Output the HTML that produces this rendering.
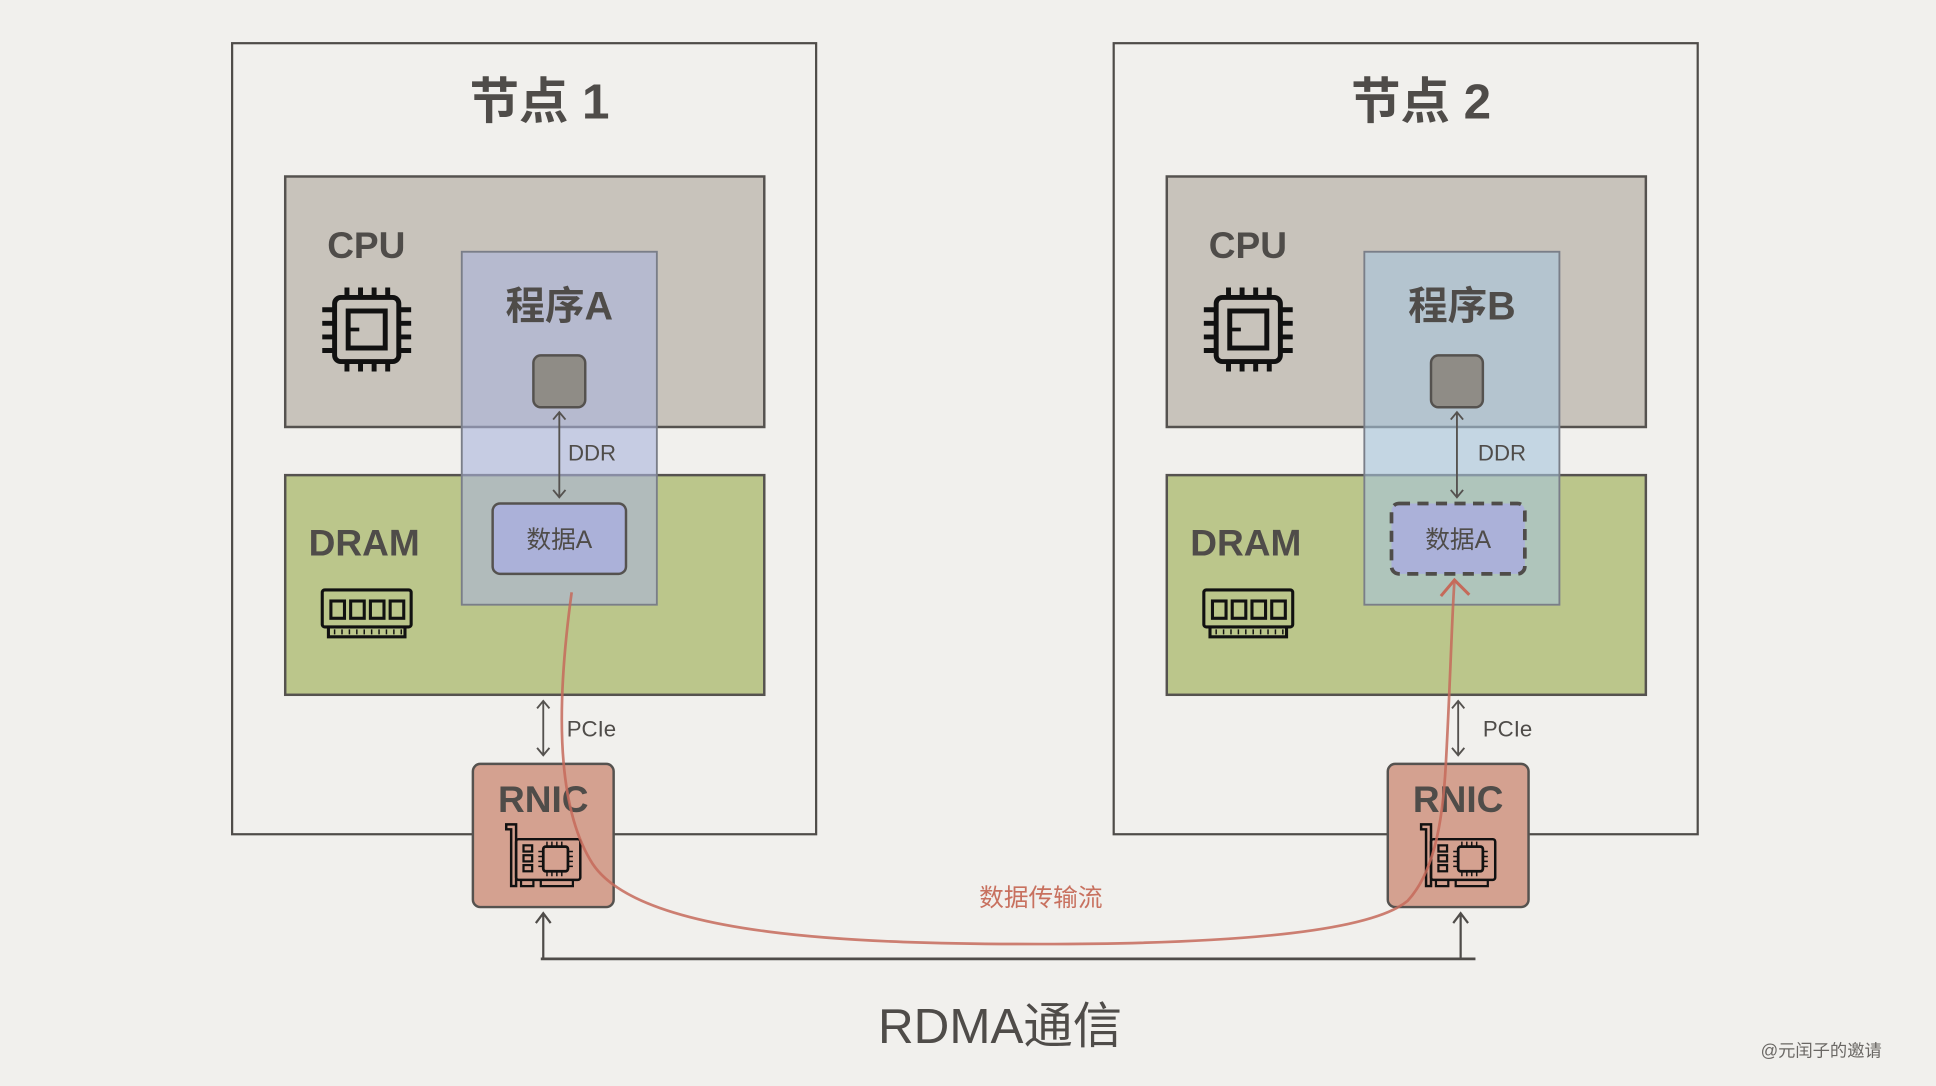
<!DOCTYPE html>
<html><head><meta charset="utf-8"><style>
html,body{margin:0;padding:0;background:#f1f0ed}
svg{display:block}
text{font-family:"Liberation Sans","Noto Sans CJK SC",sans-serif;fill:#4f4c49}
</style></head><body>
<svg width="1936" height="1086" viewBox="0 0 1568 880" preserveAspectRatio="none" xmlns="http://www.w3.org/2000/svg">
<defs>
<g id="chip">
  <rect x="-26" y="-26" width="52" height="52" rx="5" fill="none" stroke="#111" stroke-width="4"/>
  <rect x="-15" y="-15" width="30" height="30" fill="none" stroke="#111" stroke-width="4"/>
  <path d="M-15 0 H-6" stroke="#111" stroke-width="3"/>
  <g stroke="#111" stroke-width="4">
    <path d="M-16 -34 V-26 M-5 -34 V-26 M6 -34 V-26 M17 -34 V-26"/>
    <path d="M-16 26 V34 M-5 26 V34 M6 26 V34 M17 26 V34"/>
    <path d="M-36 -16 H-26 M-36 -5 H-26 M-36 6 H-26 M-36 17 H-26"/>
    <path d="M26 -16 H36 M26 -5 H36 M26 6 H36 M26 17 H36"/>
  </g>
</g>
<g id="ram">
  <rect x="0" y="0" width="72" height="30" rx="2" fill="none" stroke="#111" stroke-width="2.5"/>
  <rect x="7" y="9" width="11" height="14" fill="none" stroke="#111" stroke-width="2.5"/>
  <rect x="23" y="9" width="11" height="14" fill="none" stroke="#111" stroke-width="2.5"/>
  <rect x="39" y="9" width="11" height="14" fill="none" stroke="#111" stroke-width="2.5"/>
  <rect x="55" y="9" width="11" height="14" fill="none" stroke="#111" stroke-width="2.5"/>
  <path d="M5 30 V38 H67 V30" fill="none" stroke="#111" stroke-width="2.5"/>
  <path d="M10 32 V36 M16 32 V36 M22 32 V36 M28 32 V36 M34 32 V36 M40 32 V36 M46 32 V36 M52 32 V36 M58 32 V36 M64 32 V36" stroke="#111" stroke-width="1.2"/>
</g>
<g id="nic">
  <path d="M0 0 H8 V50 H4 V4 H0 Z" fill="none" stroke="#111" stroke-width="2"/>
  <rect x="8" y="12" width="52" height="33" rx="2" fill="none" stroke="#111" stroke-width="2"/>
  <rect x="14" y="17" width="7" height="5" fill="none" stroke="#111" stroke-width="1.8"/>
  <rect x="14" y="25" width="7" height="5" fill="none" stroke="#111" stroke-width="1.8"/>
  <rect x="14" y="33" width="7" height="5" fill="none" stroke="#111" stroke-width="1.8"/>
  <rect x="30" y="18" width="20" height="20" rx="2" fill="none" stroke="#111" stroke-width="2.2"/>
  <path d="M33 14 V18 M37 14 V18 M41 14 V18 M45 14 V18 M33 38 V42 M37 38 V42 M41 38 V42 M45 38 V42 M26 22 H30 M26 26 H30 M26 30 H30 M26 34 H30 M50 22 H54 M50 26 H54 M50 30 H54 M50 34 H54" stroke="#111" stroke-width="1.2"/>
  <path d="M12 45 V50 H22 V45 M28 45 V50 H54 V45" fill="none" stroke="#111" stroke-width="1.8"/>
</g>
</defs>

<!-- Node 1 -->
<g>
<rect x="188" y="35" width="473" height="641" fill="none" stroke="#4f4c49" stroke-width="1.8"/>
<text x="437" y="96" font-size="40" text-anchor="middle" font-weight="bold">节点 1</text>
<rect x="231" y="143" width="388" height="203" fill="#c8c3bb" stroke="#55524f" stroke-width="2"/>
<rect x="231" y="385" width="388" height="178" fill="#bbc68b" stroke="#55524f" stroke-width="2"/>
<text x="265" y="209" font-size="30" font-weight="bold">CPU</text>
<use href="#chip" x="297" y="267"/>
<text x="250" y="450" font-size="30" font-weight="bold">DRAM</text>
<use href="#ram" x="261" y="478"/>
<rect x="374" y="204" width="158" height="286" fill="#aab4dc" fill-opacity="0.6" stroke="#7a7e88" stroke-width="1.5"/>
<text x="453" y="259" font-size="32" text-anchor="middle" font-weight="bold">程序A</text>
<rect x="432" y="288" width="42" height="42" rx="6" fill="#8f8c86" stroke="#55524f" stroke-width="2"/>
<path d="M453 334 V403 M448 340 L453 334 L458 340 M448 397 L453 403 L458 397" fill="none" stroke="#55524f" stroke-width="1.5"/>
<text x="460" y="373" font-size="18">DDR</text>
<rect x="399" y="408" width="108" height="57" rx="6" fill="#abb1d9" stroke="#55524f" stroke-width="2"/>
<text x="453" y="444" font-size="20" text-anchor="middle">数据A</text>
<path d="M440 568 V612 M435 574 L440 568 L445 574 M435 606 L440 612 L445 606" fill="none" stroke="#55524f" stroke-width="1.5"/>
<text x="459" y="597" font-size="18">PCIe</text>
<rect x="383" y="619" width="114" height="116" rx="6" fill="#d4a190" stroke="#55524f" stroke-width="2"/>
<text x="440" y="658" font-size="30" text-anchor="middle" font-weight="bold">RNIC</text>
<use href="#nic" x="410" y="668"/>
</g>

<!-- Node 2 -->
<g>
<rect x="902" y="35" width="473" height="641" fill="none" stroke="#4f4c49" stroke-width="1.8"/>
<text x="1151" y="96" font-size="40" text-anchor="middle" font-weight="bold">节点 2</text>
<rect x="945" y="143" width="388" height="203" fill="#c8c3bb" stroke="#55524f" stroke-width="2"/>
<rect x="945" y="385" width="388" height="178" fill="#bbc68b" stroke="#55524f" stroke-width="2"/>
<text x="979" y="209" font-size="30" font-weight="bold">CPU</text>
<use href="#chip" x="1011" y="267"/>
<text x="964" y="450" font-size="30" font-weight="bold">DRAM</text>
<use href="#ram" x="975" y="478"/>
<rect x="1105" y="204" width="158" height="286" fill="#a6c4dc" fill-opacity="0.6" stroke="#7a7e88" stroke-width="1.5"/>
<text x="1184" y="259" font-size="32" text-anchor="middle" font-weight="bold">程序B</text>
<rect x="1159" y="288" width="42" height="42" rx="6" fill="#8f8c86" stroke="#55524f" stroke-width="2"/>
<path d="M1180 334 V403 M1175 340 L1180 334 L1185 340 M1175 397 L1180 403 L1185 397" fill="none" stroke="#55524f" stroke-width="1.5"/>
<text x="1197" y="373" font-size="18">DDR</text>
<rect x="1127" y="408" width="108" height="57" rx="6" fill="#abb1d9" stroke="#4f4c49" stroke-width="3" stroke-dasharray="9 6"/>
<text x="1181" y="444" font-size="20" text-anchor="middle">数据A</text>
<path d="M1181 568 V612 M1176 574 L1181 568 L1186 574 M1176 606 L1181 612 L1186 606" fill="none" stroke="#55524f" stroke-width="1.5"/>
<text x="1201" y="597" font-size="18">PCIe</text>
<rect x="1124" y="619" width="114" height="116" rx="6" fill="#d4a190" stroke="#55524f" stroke-width="2"/>
<text x="1181" y="658" font-size="30" text-anchor="middle" font-weight="bold">RNIC</text>
<use href="#nic" x="1151" y="668"/>
</g>

<!-- RDMA line -->
<path d="M438 777 H1195" stroke="#4f4c49" stroke-width="2.2"/>
<path d="M440 776 V740 M434 748 L440 740 L446 748" fill="none" stroke="#4f4c49" stroke-width="1.8"/>
<path d="M1183 776 V740 M1177 748 L1183 740 L1189 748" fill="none" stroke="#4f4c49" stroke-width="1.8"/>
<text x="810" y="845" font-size="40" text-anchor="middle">RDMA通信</text>

<!-- data flow curve -->
<path d="M463 480 C452 560 448 650 480 700 C520 760 700 765 843 765 C1000 765 1110 755 1140 730 C1168 700 1170 640 1172 600 C1175 540 1176 500 1178 470" fill="none" stroke="#c56a5a" stroke-width="2.2" stroke-opacity="0.85"/>
<path d="M1167 483 L1178 470 L1190 482" fill="none" stroke="#c56a5a" stroke-width="2.5"/>
<text x="843" y="734" font-size="20" text-anchor="middle" style="fill:#c8715f">数据传输流</text>

<text x="1475" y="856" font-size="14" text-anchor="middle" style="fill:#6a6764">@元闰子的邀请</text>
</svg>
</body></html>
